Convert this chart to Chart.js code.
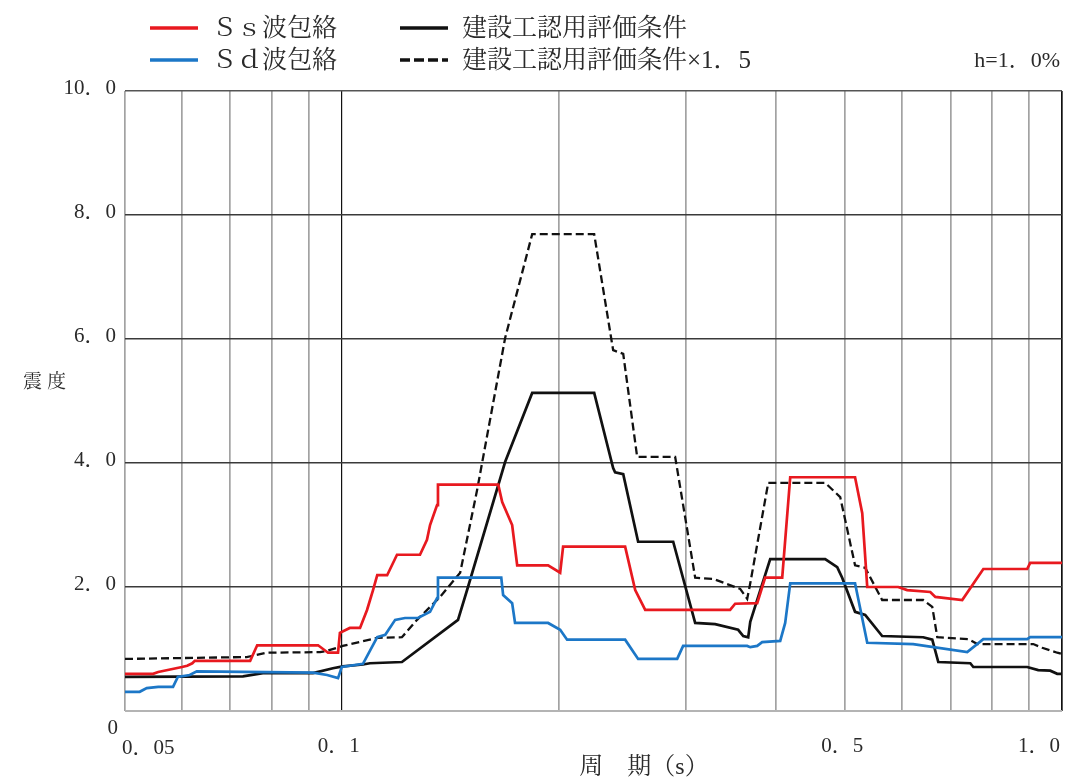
<!DOCTYPE html>
<html><head><meta charset="utf-8">
<script src="https://cdn.jsdelivr.net/npm/chart.js@4.4.0/dist/chart.umd.min.js"></script>
<style>html,body{margin:0;padding:0;background:#fff;}#wrap{position:relative;width:1075px;height:783px;}</style>
</head><body><div id="wrap"><canvas id="c" width="1075" height="783"></canvas></div>
<script>
// ---- data (period in s, value) ----
const ssPeriod = [0.05,0.0547,0.0556,0.060,0.061,0.062,0.0625,0.0746,0.0763,0.0927,0.0957,0.0988,0.0994,0.1026,0.106,0.1084,0.1105,0.112,0.1156,0.1193,0.1284,0.1313,0.1326,0.1356,0.136,0.1649,0.167,0.1724,0.1752,0.1934,0.201,0.2029,0.2474,0.2555,0.2638,0.3461,0.3517,0.3774,0.3871,0.4088,0.4194,0.516,0.528,0.5365,0.5923,0.6095,0.6563,0.667,0.7269,0.7776,0.8946,0.9033,1.0];
const ssValue  = [0.60,0.60,0.63,0.71,0.73,0.77,0.81,0.81,1.06,1.06,0.94,0.94,1.26,1.34,1.34,1.63,1.95,2.19,2.19,2.52,2.52,2.76,3.00,3.32,3.65,3.65,3.37,3.00,2.35,2.35,2.23,2.65,2.65,1.95,1.63,1.63,1.73,1.74,2.15,2.15,3.77,3.77,3.19,2.00,2.00,1.95,1.92,1.84,1.79,2.29,2.29,2.39,2.39];

const sdPeriod = [0.05,0.0524,0.0536,0.0556,0.0583,0.0592,0.0615,0.0629,0.0912,0.0954,0.0988,0.1,0.107,0.112,0.1149,0.1186,0.1224,0.1276,0.1326,0.1356,0.136,0.1665,0.1675,0.1724,0.174,0.1934,0.201,0.2055,0.2474,0.2579,0.2922,0.2978,0.3655,0.3691,0.3774,0.3834,0.4062,0.4127,0.4194,0.516,0.5365,0.6214,0.7386,0.7776,0.8946,0.9033,1.0];
const sdValue  = [0.31,0.31,0.37,0.39,0.39,0.55,0.58,0.64,0.62,0.58,0.53,0.71,0.76,1.19,1.23,1.47,1.50,1.50,1.60,1.82,2.15,2.15,1.87,1.74,1.42,1.42,1.31,1.15,1.15,0.84,0.84,1.05,1.05,1.03,1.05,1.11,1.13,1.42,2.06,2.06,1.10,1.08,0.95,1.16,1.16,1.19,1.19];

const evPeriod = [0.05,0.0729,0.0777,0.0912,0.0972,0.1003,0.107,0.1094,0.1212,0.145,0.1497,0.1686,0.1838,0.2241,0.2381,0.2396,0.2459,0.2579,0.2885,0.3095,0.3299,0.3551,0.3609,0.3667,0.3691,0.3934,0.469,0.4874,0.4952,0.516,0.533,0.5627,0.6416,0.6605,0.6733,0.7459,0.7531,0.8946,0.9268,0.9631,0.9849,1.0];
const evValue  = [0.55,0.56,0.61,0.61,0.69,0.72,0.75,0.77,0.79,1.47,2.00,4.02,5.13,5.13,3.92,3.85,3.82,2.73,2.73,1.42,1.40,1.31,1.21,1.19,1.44,2.45,2.45,2.32,2.15,1.60,1.55,1.21,1.19,1.15,0.79,0.77,0.71,0.71,0.66,0.65,0.60,0.60];

const ev15Period = [0.05,0.0738,0.0787,0.0933,0.0954,0.1003,0.112,0.1212,0.1272,0.1369,0.146,0.1541,0.1686,0.1838,0.2241,0.2381,0.2459,0.2571,0.2903,0.3095,0.3278,0.3574,0.3655,0.3691,0.3909,0.469,0.4921,0.516,0.533,0.5627,0.6416,0.6605,0.6712,0.741,0.7628,0.9122,0.9386,0.9849,1.0];
const ev15Value  = [0.84,0.87,0.94,0.95,0.97,1.05,1.18,1.19,1.47,1.84,2.23,3.56,6.02,7.69,7.69,5.82,5.76,4.10,4.10,2.15,2.13,1.97,1.81,2.06,3.68,3.68,3.45,2.35,2.31,1.79,1.79,1.68,1.19,1.16,1.08,1.08,1.02,0.94,0.92];

const seriesNames = ['Ｓｓ波包絡','Ｓｄ波包絡','建設工認用評価条件','建設工認用評価条件×1．5'];
const xTickValues = [0.05,0.06,0.07,0.08,0.09,0.1,0.2,0.3,0.4,0.5,0.6,0.7,0.8,0.9,1.0];
const xLabelValues = [0.05,0.1,0.5,1.0];
const xLabelTexts  = ['0．05','0．1','0．5','1．0'];
const yTickValues = [0,2,4,6,8,10];
const yTickTexts  = ['0','2．0','4．0','6．0','8．0','10．0'];
const xTitle = '周　期（s）';
const yTitle = '震度';
const noteText = 'h=1．0%';

const pts = (xs, ys) => xs.map((x, i) => ({x: x, y: ys[i]}));
const near = (a, b) => Math.abs(a - b) < 1e-6;

const textFont = px => px + 'px "Liberation Serif", "Noto Serif CJK JP", "Noto Sans CJK JP", serif';

const textPlugin = {
  id: 'texts',
  afterDraw(chart) {
    const ctx = chart.ctx, xs = chart.scales.x, ys = chart.scales.y;
    ctx.save();
    ctx.fillStyle = '#2a2a2a';
    // y tick labels
    ctx.font = textFont(21);
    ctx.textAlign = 'right'; ctx.textBaseline = 'middle';
    yTickValues.forEach((v, i) => {
      let y = ys.getPixelForValue(v);
      y += (v === 0) ? 17 : -3;
      ctx.fillText(yTickTexts[i], v === 0 ? 118 : 116, y);
    });
    // x tick labels
    xLabelValues.forEach((v, i) => {
      const x = xs.getPixelForValue(v);
      if (i === 0) { ctx.textAlign = 'left'; ctx.fillText(xLabelTexts[i], x - 3, 748); }
      else if (i === xLabelValues.length - 1) { ctx.textAlign = 'right'; ctx.fillText(xLabelTexts[i], x - 2, 746); }
      else { ctx.textAlign = 'center'; ctx.fillText(xLabelTexts[i], x - 3, 746); }
    });
    // axis titles
    ctx.font = textFont(24);
    ctx.textAlign = 'center';
    ctx.fillText(xTitle, 644, 768);
    ctx.font = textFont(19);
    if ('letterSpacing' in ctx) ctx.letterSpacing = '5px';
    ctx.fillText(yTitle, 47, 383);
    if ('letterSpacing' in ctx) ctx.letterSpacing = '0px';
    // note
    ctx.font = textFont(22);
    ctx.textAlign = 'right';
    ctx.fillText(noteText, 1060, 61);
    // legend
    const ds = chart.data.datasets;
    const legendPos = [[150, 28], [150, 60], [400, 28], [400, 60]];
    ds.forEach((d, i) => {
      const [lx, ly] = legendPos[i];
      ctx.beginPath();
      ctx.strokeStyle = d.borderColor;
      ctx.lineWidth = 3.5;
      ctx.setLineDash(d.borderDash ? [10, 4] : []);
      ctx.moveTo(lx, ly); ctx.lineTo(lx + 48, ly);
      ctx.stroke();
      ctx.setLineDash([]);
      ctx.font = textFont(25);
      ctx.textAlign = 'left';
      ctx.fillText(seriesNames[i], lx + 62, ly + 1);
    });
    ctx.restore();
  }
};

new Chart(document.getElementById('c'), {
  type: 'line',
  data: {
    datasets: [
      {label: seriesNames[0], data: pts(ssPeriod, ssValue), borderColor: '#e8191f', borderWidth: 2.7},
      {label: seriesNames[1], data: pts(sdPeriod, sdValue), borderColor: '#1c77c7', borderWidth: 2.7},
      {label: seriesNames[2], data: pts(evPeriod, evValue), borderColor: '#111111', borderWidth: 2.7},
      {label: seriesNames[3], data: pts(ev15Period, ev15Value), borderColor: '#111111', borderWidth: 2.3, borderDash: [8, 4]}
    ]
  },
  options: {
    responsive: false,
    animation: false,
    devicePixelRatio: 1,
    elements: {point: {radius: 0}, line: {tension: 0, fill: false}},
    layout: {padding: {top: 91, right: 13, left: 0, bottom: 0}},
    plugins: {legend: {display: false}, tooltip: {enabled: false}, title: {display: false}},
    scales: {
      x: {
        type: 'logarithmic', min: 0.05, max: 1.0,
        afterBuildTicks: s => { s.ticks = xTickValues.map(v => ({value: v})); },
        afterFit: s => { s.height = 72; },
        ticks: {display: false},
        border: {display: false},
        grid: {
          drawTicks: false,
          color: c => (near(c.tick.value, 0.1) || near(c.tick.value, 1.0)) ? '#111' : '#a2a2a2',
          lineWidth: c => near(c.tick.value, 0.1) ? 1.2 : 1.7
        }
      },
      y: {
        min: 0, max: 10,
        afterBuildTicks: s => { s.ticks = yTickValues.map(v => ({value: v})); },
        afterFit: s => { s.width = 125; },
        ticks: {display: false},
        border: {display: false},
        grid: {
          drawTicks: false,
          color: c => c.tick.value === 0 ? '#b4b4b4' : (c.tick.value === 10 ? '#555' : '#3a3a3a'),
          lineWidth: c => c.tick.value === 0 ? 2 : 1.6
        }
      }
    }
  },
  plugins: [textPlugin]
});
</script>
</body></html>
